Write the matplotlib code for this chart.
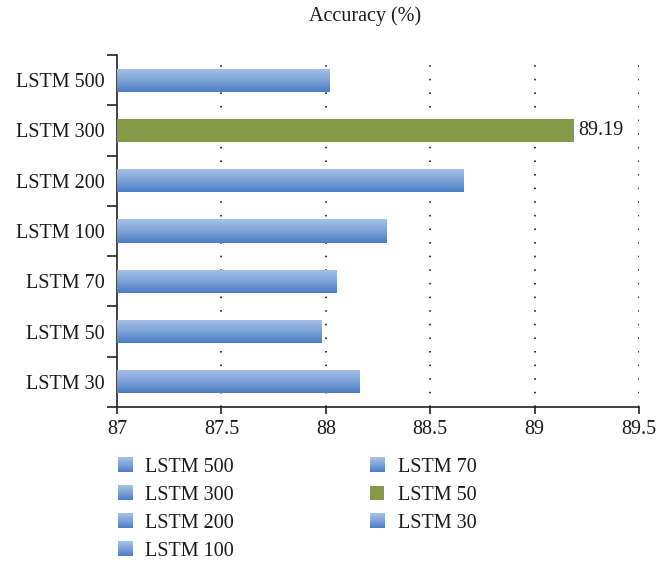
import numpy as np
import matplotlib
matplotlib.use("Agg")
import matplotlib.pyplot as plt
from matplotlib.patches import Rectangle
from matplotlib.legend_handler import HandlerBase
from matplotlib.image import BboxImage
from matplotlib.transforms import Bbox, TransformedBbox
from matplotlib.colors import LinearSegmentedColormap

# accuracy per LSTM size, listed bottom-to-top as drawn
models = ["LSTM 30", "LSTM 50", "LSTM 70", "LSTM 100", "LSTM 200", "LSTM 300", "LSTM 500"]
accuracy = [88.16, 87.98, 88.05, 88.29, 88.66, 89.19, 88.02]
best_label = "LSTM 300"
x_ticks = [87, 87.5, 88, 88.5, 89, 89.5]

GREEN = "#849a46"
TEXT = "#1a1a1a"
FS = 14.5
blue_grad = LinearSegmentedColormap.from_list("bar_blue", ["#4a7dc4", "#7ea3d8", "#a6c2e7"])
GRAD = np.linspace(0, 1, 64).reshape(-1, 1)

plt.rcParams["font.family"] = ["Liberation Serif", "DejaVu Serif"]
plt.rcParams["text.color"] = TEXT

fig = plt.figure(figsize=(6.56, 5.63), dpi=100)
ax = fig.add_axes([117 / 656, 1 - 407 / 563, 522 / 656, 352 / 563])

y = np.arange(len(models))
bars = ax.barh(y, np.array(accuracy) - x_ticks[0], left=x_ticks[0], height=0.46,
               edgecolor="none", zorder=3)

is_green = {}
for bar, name, val in zip(bars, models, accuracy):
    if name == best_label:
        bar.set_facecolor(GREEN)
        is_green[bar] = True
        ax.text(val + 0.02, bar.get_y() + bar.get_height() / 2, f"{val:.2f}",
                va="center", ha="left", fontsize=FS, color=TEXT, zorder=4)
    else:
        bar.set_facecolor("none")
        is_green[bar] = False
        x0, y0 = bar.get_x(), bar.get_y()
        im = ax.imshow(GRAD, cmap=blue_grad, aspect="auto", origin="lower",
                       extent=(x0, x0 + bar.get_width(), y0, y0 + bar.get_height()),
                       interpolation="bicubic", zorder=3)
        im.set_clip_path(bar)

ax.set_xlim(x_ticks[0], x_ticks[-1])
ax.set_ylim(-0.5, len(models) - 0.5)
ax.set_xticks(x_ticks)
ax.set_xticklabels([f"{t:g}" for t in x_ticks])
ax.set_yticks(y)
ax.set_yticklabels(models)
ax.set_yticks(np.arange(-0.5, len(models)), minor=True)
ax.tick_params(axis="y", which="major", length=0, pad=9, labelsize=FS, labelcolor=TEXT)
ax.tick_params(axis="y", which="minor", length=7, width=1.2, color="#222")
ax.tick_params(axis="x", length=5, width=1.2, color="#222", labelsize=FS,
               labelcolor=TEXT, pad=4)

for t in x_ticks[1:]:
    ax.axvline(t, color="#333333", linewidth=1.4, dashes=(0.8, 6.2), zorder=1)

for side in ("top", "right"):
    ax.spines[side].set_visible(False)
for side in ("left", "bottom"):
    ax.spines[side].set_linewidth(1.2)
    ax.spines[side].set_color("#222")

fig.text(365 / 656, 1 - 16 / 563, "Accuracy (%)", ha="center", va="center", fontsize=FS)


class SquareHandler(HandlerBase):
    def create_artists(self, legend, orig_handle, xdescent, ydescent,
                       width, height, fontsize, trans):
        side = height * 1.05
        x0 = -xdescent + (width - side) / 2
        y0 = -ydescent + (height - side) / 2
        if is_green.get(orig_handle):
            return [Rectangle((x0, y0), side, side, facecolor=GREEN,
                              edgecolor="none", transform=trans)]
        box = TransformedBbox(Bbox.from_bounds(x0, y0, side, side), trans)
        img = BboxImage(box, cmap=blue_grad, interpolation="bicubic", origin="lower")
        img.set_data(GRAD)
        return [img]


# legend labels run top-to-bottom while the swatches follow bar order
handles = list(bars)
labels = models[::-1]
fig.legend(handles, labels, handler_map={h: SquareHandler() for h in handles},
           loc="upper left", bbox_to_anchor=(116 / 656, 1 - 458 / 563), ncol=2,
           frameon=False, fontsize=FS, handlelength=0.85, handleheight=0.65,
           handletextpad=0.6, labelspacing=0.45, columnspacing=6.7,
           borderaxespad=0, borderpad=0)

fig.savefig("out.png", dpi=100)
